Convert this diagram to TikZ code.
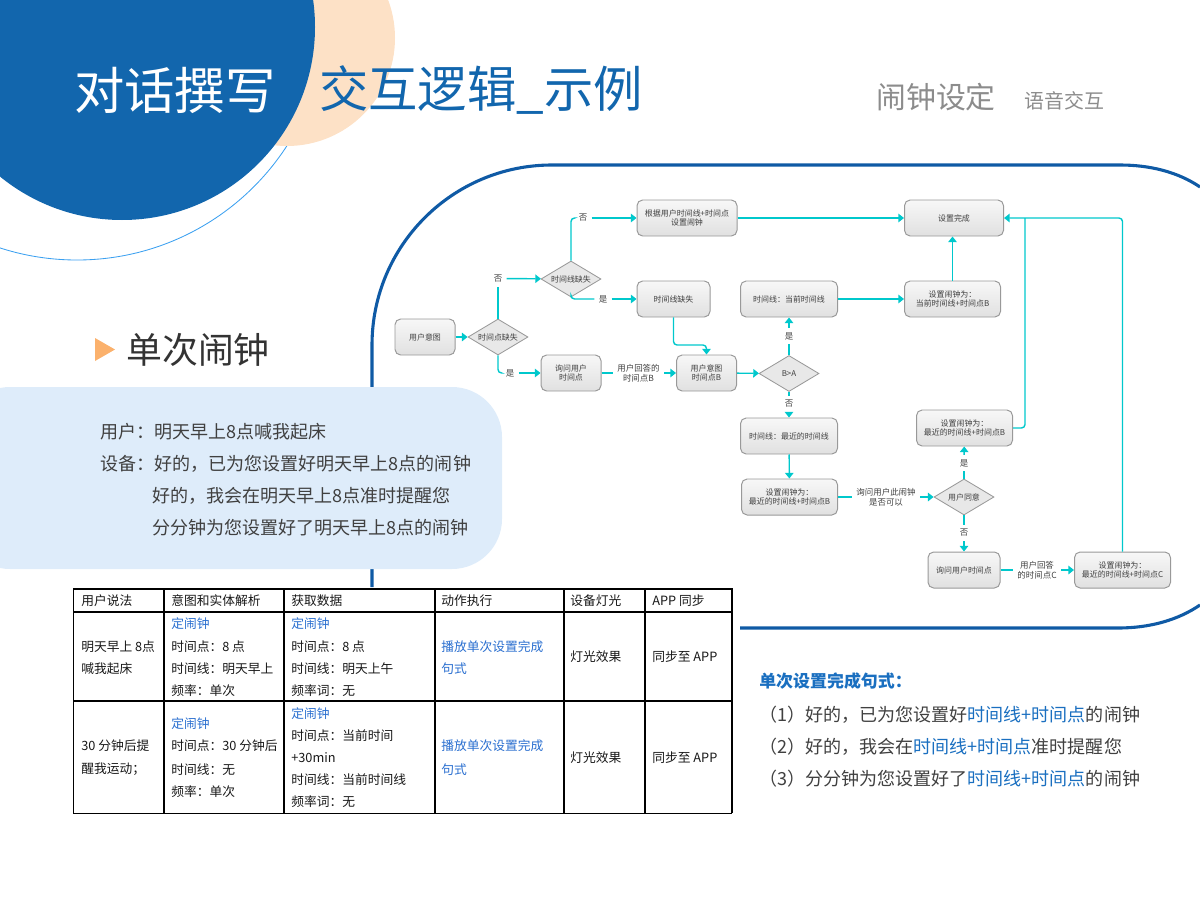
\documentclass[tikz,border=0pt]{standalone}
\usepackage{fontspec}
\usepackage{tikz}
\usetikzlibrary{arrows.meta,shapes.geometric}
\setmainfont{Noto Sans CJK SC}

\definecolor{deepblue}{HTML}{1266AD}
\definecolor{peach}{HTML}{FDE1C6}
\definecolor{paleblue}{HTML}{DEECFA}
\definecolor{panelblue}{HTML}{0F5AA5}
\definecolor{skyline}{HTML}{3BA0F0}
\definecolor{flowcyan}{HTML}{00C8CC}
\definecolor{linkblue}{HTML}{2A6FD0}
\definecolor{keyblue}{HTML}{1A6FC0}
\definecolor{greytext}{HTML}{8C8C8C}
\definecolor{darktext}{HTML}{404040}
\definecolor{tipcolor}{HTML}{FBB16C}

\newcommand{\px}{0.025cm}
\newcommand{\pxfont}[1]{\fontsize{\fpeval{#1*0.7087}pt}{\fpeval{#1*0.85}pt}\selectfont}

\tikzset{
  procbox/.style={draw=black!40,line width=0.7pt,rounded corners=4pt,top color=black!3,bottom color=black!12,
    inner sep=0pt,align=center,text=black!75,font=\pxfont{8}},
  decision/.style={diamond,draw=black!40,line width=0.6pt,fill=black!9,aspect=1.67,
    minimum width=60*\px,minimum height=36*\px,inner sep=0pt,align=center,text=black!75,font=\pxfont{8}},
  flowlbl/.style={inner sep=3pt,align=center,text=black!75,font=\pxfont{8.5}},
  flow/.style={draw=flowcyan,line width=1pt,rounded corners=2.5pt,-{Triangle[length=4pt,width=6pt]}},
  flowplain/.style={draw=flowcyan,line width=1pt,rounded corners=2.5pt},
  panel/.style={draw=panelblue,line width=2.2pt},
  cell/.style={anchor=west,inner sep=0pt,yshift=-0.4pt,text=black!90,font=\pxfont{12.8}},
  cellblue/.style={cell,text=linkblue},
  talk/.style={anchor=west,inner sep=0pt,yshift=-0.6pt,text=darktext,font=\pxfont{18.1}},
}

\begin{document}
\begin{tikzpicture}[x=0.025cm,y=-0.025cm]
  \useasboundingbox (0,0) rectangle (1200,900);

  % background
  \draw[skyline,line width=0.6pt] (77,10) circle (250);
  \fill[peach] (287,38) circle (108);
  \fill[deepblue] (122,27) circle (193);
  \draw[panel] (372,587) -- (372,345) .. controls (372,245.6) and (452.6,165) .. (552,165) -- (1120,165) .. controls (1150,165) and (1178,172) .. (1200,187);
  \draw[panel] (740,628) -- (1118,628) .. controls (1150,628) and (1178,620) .. (1200,605);
  \fill[paleblue,rounded corners=1.25cm] (-40,387) -- (502,387) -- (502,569) -- (-40,569) -- cycle;
  \fill[tipcolor] (95,338) -- (115,349.5) -- (95,361) -- cycle;

  % titles
  \node[anchor=west,inner sep=0pt,text=white,font=\pxfont{50.5}] (title) at (74,90) {对话撰写};
  \node[anchor=west,inner sep=0pt,text=deepblue,font=\pxfont{49.5}] (subtitle) at (319,90) {交互逻辑\_示例};
  \node[anchor=west,inner sep=0pt,text=greytext,font=\pxfont{30}] (topic) at (876,97) {闹钟设定};
  \node[anchor=west,inner sep=0pt,text=greytext,font=\pxfont{20}] (mode) at (1024,101) {语音交互};
  \node[anchor=west,inner sep=0pt,text=black!80,font=\pxfont{36}] (kind) at (126,350) {单次闹钟};

  % dialogue
  \node[talk] (talk1) at (100,431) {用户：明天早上8点喊我起床};
  \node[talk] (talk2) at (100,463) {设备：好的，已为您设置好明天早上8点的闹钟};
  \node[talk] (talk3) at (152,495) {好的，我会在明天早上8点准时提醒您};
  \node[talk] (talk4) at (152,527) {分分钟为您设置好了明天早上8点的闹钟};

  % flow nodes
  \node[procbox,minimum width=60*\px,minimum height=36*\px] (intent) at (425,337) {用户意图};
  \node[decision] (pointgone) at (498,337) {时间点缺失};
  \node[decision] (linegone) at (571,279) {时间线缺失};
  \node[procbox,minimum width=100*\px,minimum height=36*\px] (setuser) at (687,218) {根据用户时间线+时间点\\设置闹钟};
  \node[procbox,minimum width=73*\px,minimum height=36*\px] (lackline) at (673.5,299) {时间线缺失};
  \node[procbox,minimum width=60*\px,minimum height=36*\px] (askpoint) at (571,373) {询问用户\\时间点};
  \node[procbox,minimum width=60*\px,minimum height=36*\px] (pointb) at (706.5,373) {用户意图\\时间点B};
  \node[decision] (compare) at (789,373.5) {B>A};
  \node[procbox,minimum width=97*\px,minimum height=36*\px] (nowline) at (789,299) {时间线：当前时间线};
  \node[procbox,minimum width=96*\px,minimum height=36*\px] (setnow) at (952.5,299) {设置闹钟为：\\当前时间线+时间点B};
  \node[procbox,minimum width=99*\px,minimum height=36*\px] (done) at (954,218) {设置完成};
  \node[procbox,minimum width=97*\px,minimum height=36*\px] (nearline) at (789,436) {时间线：最近的时间线};
  \node[procbox,minimum width=96*\px,minimum height=36*\px] (setnear) at (789.5,497) {设置闹钟为：\\最近的时间线+时间点B};
  \node[decision] (agree) at (964,497) {用户同意};
  \node[procbox,minimum width=96*\px,minimum height=36*\px] (setagree) at (964.5,428) {设置闹钟为：\\最近的时间线+时间点B};
  \node[procbox,minimum width=72*\px,minimum height=36*\px] (askagain) at (964,570) {询问用户时间点};
  \node[procbox,minimum width=96*\px,minimum height=36*\px] (setc) at (1122.5,570) {设置闹钟为：\\最近的时间线+时间点C};

  % flow labels
  \node[flowlbl] (no1) at (498,278.5) {否};
  \node[flowlbl] (yes1) at (510,373) {是};
  \node[flowlbl] (no2) at (583,218) {否};
  \node[flowlbl] (yes2) at (603,299) {是};
  \node[flowlbl] (answerb) at (638.5,373) {用户回答的\\时间点B};
  \node[flowlbl] (yes3) at (789,336) {是};
  \node[flowlbl] (no3) at (789,404) {否};
  \node[flowlbl] (askok) at (886,497) {询问用户此闹钟\\是否可以};
  \node[flowlbl] (yes4) at (964,463) {是};
  \node[flowlbl] (no4) at (964,533) {否};
  \node[flowlbl] (answerc) at (1037,570) {用户回答\\的时间点C};

  % connectors
  \draw[flow] (intent) -- (pointgone);
  \draw[flowplain] (pointgone) -- (no1);
  \draw[flow] (no1) -- (linegone);
  \draw[flowplain] (pointgone) |- (yes1);
  \draw[flow] (yes1) -- (askpoint);
  \draw[flowplain] (linegone) |- (no2);
  \draw[flow] (no2) -- (setuser);
  \draw[flowplain] (linegone) |- (yes2);
  \draw[flow] (yes2) -- (lackline);
  \draw[flow] (lackline.south) |- (690,345) -| (pointb.north);
  \draw[flowplain] (askpoint) -- (answerb);
  \draw[flow] (answerb) -- (pointb);
  \draw[flow] (pointb) -- (compare);
  \draw[flowplain] (compare) -- (yes3);
  \draw[flow] (yes3) -- (nowline);
  \draw[flowplain] (compare) -- (no3);
  \draw[flow] (no3) -- (nearline);
  \draw[flow] (nearline) -- (setnear);
  \draw[flowplain] (setnear) -- (askok);
  \draw[flow] (askok) -- (agree);
  \draw[flowplain] (agree) -- (yes4);
  \draw[flow] (yes4) -- (setagree);
  \draw[flowplain] (agree) -- (no4);
  \draw[flow] (no4) -- (askagain);
  \draw[flowplain] (askagain) -- (answerc);
  \draw[flow] (answerc) -- (setc);
  \draw[flow] (setuser) -- (done);
  \draw[flow] (nowline) -- (setnow);
  \draw[flow] (setnow.north) -- (setnow.north |- done.south);
  \draw[flow] (setc.north) |- (done.east);
  \draw[flowplain] (setagree.east) -| (1025,218);

  % table
  \fill[white] (73,589) rectangle (733,814);
  \draw[black,line width=1pt] (73,589) -- (732,589);
  \draw[black,line width=1.4pt] (73,612) -- (732,612);
  \draw[black,line width=0.8pt] (73,701) -- (732,701);
  \draw[black,line width=1.2pt] (73,813.5) -- (732,813.5);
  \foreach \cx/\lw in {73.5/0.7,164/1.2,284/1,435/1.2,564/0.9,645/1.2,732/0.9}
    \draw[black,line width=\lw pt] (\cx,588) -- (\cx,813);

  \node[cell] (headsay) at (81,600.5) {用户说法};
  \node[cell] (headparse) at (171,600.5) {意图和实体解析};
  \node[cell] (headdata) at (291,600.5) {获取数据};
  \node[cell] (headact) at (441,600.5) {动作执行};
  \node[cell] (headlight) at (570,600.5) {设备灯光};
  \node[cell] (headapp) at (652,600.5) {APP 同步};

  \node[cell] (sayone) at (81,646) {明天早上 8点};
  \node[cell] (saytwo) at (81,668) {喊我起床};
  \node[cellblue] (parseone) at (171,623) {定闹钟};
  \node[cell] (parsetwo) at (171,646) {时间点：8 点};
  \node[cell] (parsethree) at (171,668) {时间线：明天早上};
  \node[cell] (parsefour) at (171,690) {频率：单次};
  \node[cellblue] (dataone) at (291,623) {定闹钟};
  \node[cell] (datatwo) at (291,646) {时间点：8 点};
  \node[cell] (datathree) at (291,668) {时间线：明天上午};
  \node[cell] (datafour) at (291,690) {频率词：无};
  \node[cellblue] (actone) at (441,646) {播放单次设置完成};
  \node[cellblue] (acttwo) at (441,668) {句式};
  \node[cell] (lightone) at (570,656) {灯光效果};
  \node[cell] (appone) at (652,656) {同步至 APP};

  \node[cell] (saythree) at (81,745) {30 分钟后提};
  \node[cell] (sayfour) at (81,769) {醒我运动；};
  \node[cellblue] (parsefive) at (171,723) {定闹钟};
  \node[cell] (parsesix) at (171,745) {时间点：30 分钟后};
  \node[cell] (parseseven) at (171,769) {时间线：无};
  \node[cell] (parseeight) at (171,791) {频率：单次};
  \node[cellblue] (datafive) at (291,713) {定闹钟};
  \node[cell] (datasix) at (291,735) {时间点：当前时间};
  \node[cell] (dataseven) at (291,757) {+30min};
  \node[cell] (dataeight) at (291,779) {时间线：当前时间线};
  \node[cell] (datanine) at (291,801) {频率词：无};
  \node[cellblue] (actthree) at (441,745) {播放单次设置完成};
  \node[cellblue] (actfour) at (441,769) {句式};
  \node[cell] (lighttwo) at (570,757) {灯光效果};
  \node[cell] (apptwo) at (652,757) {同步至 APP};

  % reply patterns
  \node[anchor=west,inner sep=0pt,text=keyblue,font=\pxfont{17}\bfseries] (replyhead) at (759,681) {单次设置完成句式：};
  \node[talk] (replyone) at (759,714) {（1）好的，已为您设置好\textcolor{keyblue}{时间线+时间点}的闹钟};
  \node[talk] (replytwo) at (759,746) {（2）好的，我会在\textcolor{keyblue}{时间线+时间点}准时提醒您};
  \node[talk] (replythree) at (759,778) {（3）分分钟为您设置好了\textcolor{keyblue}{时间线+时间点}的闹钟};
\end{tikzpicture}
\end{document}
